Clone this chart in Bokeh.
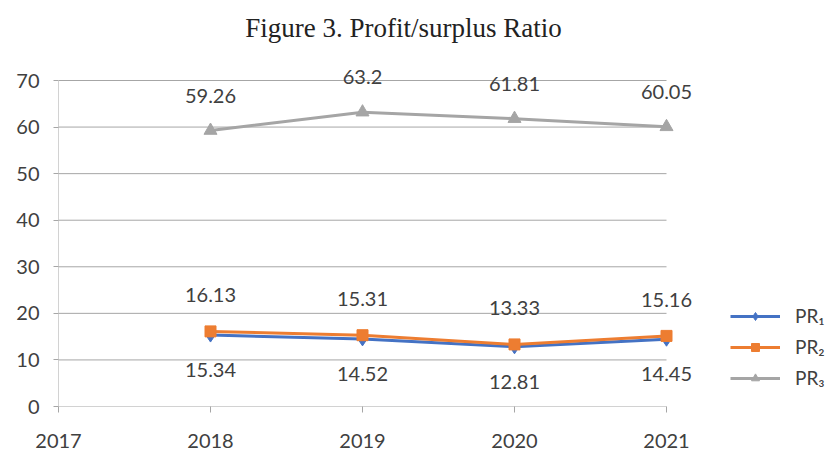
from bokeh.plotting import figure
from bokeh.models import Range1d, Legend, LegendItem, FixedTicker, ColumnDataSource
from bokeh.core.properties import value
from bokeh.embed import file_html
from bokeh.resources import INLINE

years = [2018, 2019, 2020, 2021]
pr1 = [15.34, 14.52, 12.81, 14.45]
pr2 = [16.13, 15.31, 13.33, 15.16]
pr3 = [59.26, 63.2, 61.81, 60.05]
x_ticks = [2017, 2018, 2019, 2020, 2021]
y_ticks = [0, 10, 20, 30, 40, 50, 60, 70]
title_text = "Figure 3. Profit/surplus Ratio"

FONT = "Lato"
TXT = "#404040"
GRID = "#a6a6a6"

W, H = 839, 453
LEFT, BOTTOM = 58, 47
frame_w = W - LEFT
frame_h = H - BOTTOM
px_per_year = 608 / (x_ticks[-1] - x_ticks[0])
px_per_unit = 326 / (y_ticks[-1] - y_ticks[0])
x_end = x_ticks[0] + frame_w / px_per_year
y_end = y_ticks[0] + frame_h / px_per_unit

p = figure(width=W, height=H, output_backend="svg", toolbar_location=None,
           x_range=Range1d(x_ticks[0], x_end), y_range=Range1d(y_ticks[0], y_end))
p.min_border = 0
p.min_border_left = LEFT
p.min_border_bottom = BOTTOM
p.outline_line_color = None
p.background_fill_color = "white"
p.border_fill_color = "white"

p.xaxis.ticker = FixedTicker(ticks=x_ticks)
p.yaxis.ticker = FixedTicker(ticks=y_ticks)
for ax in (p.xaxis[0], p.yaxis[0]):
    ax.axis_line_color = None
    ax.major_tick_line_color = GRID
    ax.minor_tick_line_color = None
    ax.major_tick_in = 0
    ax.major_label_text_font = FONT
    ax.major_label_text_font_size = "20px"
    ax.major_label_text_color = TXT
p.xaxis.major_tick_out = 6
p.xaxis.major_label_standoff = 21
p.yaxis.major_tick_out = 5
p.yaxis.major_label_standoff = 14
p.xgrid.grid_line_color = None
p.ygrid.grid_line_color = None

# gridlines and axis line limited to the data area
n = len(y_ticks)
p.segment(x0=[x_ticks[0]] * n, y0=y_ticks, x1=[x_ticks[-1]] * n, y1=y_ticks,
          line_color=GRID, line_width=1)
p.segment(x0=[x_ticks[0]], y0=[y_ticks[0]], x1=[x_ticks[0]], y1=[y_ticks[-1]],
          line_color=GRID, line_width=1)

series = [
    ("PR\u2081", pr1, "#4472C4", "diamond", 14, 35),
    ("PR\u2082", pr2, "#ED7D31", "square", 11, -36),
    ("PR\u2083", pr3, "#A5A5A5", "triangle", 13, -35),
]
items = []
for name, vals, color, marker, size, dy in series:
    src = ColumnDataSource(dict(x=years, y=vals, t=[f"{v:g}" for v in vals]))
    ln = p.line("x", "y", source=src, line_color=color, line_width=3)
    mk = p.scatter("x", "y", source=src, marker=marker, size=size,
                   fill_color=color, line_color=color)
    p.text("x", "y", text="t", source=src, y_offset=dy, text_align="center",
           text_baseline="middle", text_font=value(FONT), text_font_size="20px",
           text_color=TXT)
    items.append(LegendItem(label=name, renderers=[ln, mk]))

legend = Legend(items=items, location=(672, 17), padding=0, margin=0,
                border_line_color=None, background_fill_alpha=0,
                glyph_width=50, glyph_height=20, spacing=8, label_standoff=15,
                label_text_font=FONT, label_text_font_size="19px",
                label_text_color=TXT)
p.add_layout(legend, "center")

# title drawn inside the (extended) frame
title_x = x_ticks[0] + (403 - LEFT) / px_per_year
title_y = (frame_h - 27) / px_per_unit
p.text(x=[title_x], y=[title_y], text=[title_text], text_align="center",
       text_baseline="middle", text_font=value("Liberation Serif"),
       text_font_size="27px", text_color="#222222")

open("out.html", "w").write(file_html(p, INLINE))
